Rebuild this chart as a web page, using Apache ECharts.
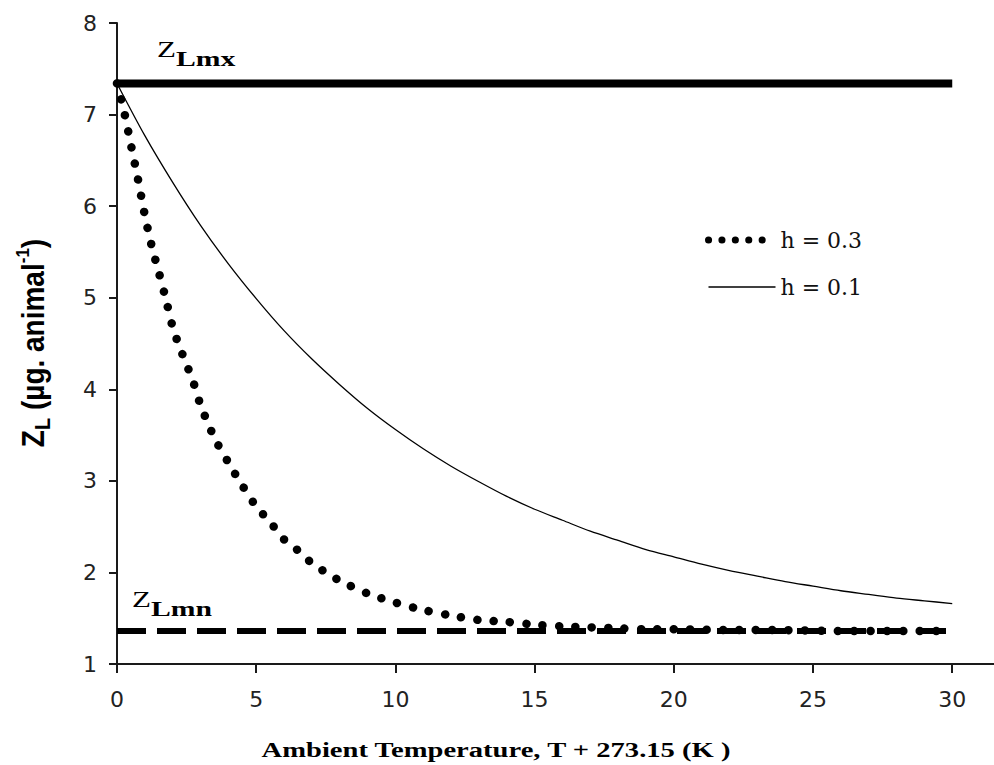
<!DOCTYPE html>
<html>
<head>
<meta charset="utf-8">
<script src="https://cdn.jsdelivr.net/npm/echarts@6/dist/echarts.min.js"></script>
<style>
  html, body { margin: 0; padding: 0; background: #fff; }
  #chart { width: 994px; height: 765px; }
</style>
</head>
<body>
<div id="chart"></div>
<script>
// Axis ticks
const xTicks = [0, 5, 10, 15, 20, 25, 30];
const yTicks = [1, 2, 3, 4, 5, 6, 7, 8];

// Upper and lower bounds of Z_L across the temperature range
const limitTemps = [0, 30];
const zLmx = [7.34, 7.34];
const zLmn = [1.36, 1.36];

// h = 0.3
const tempH03 = [0, 0.25, 0.5, 0.75, 1, 1.25, 1.5, 1.75, 2, 2.25, 2.5, 2.75, 3, 3.5, 4, 4.5, 5, 5.5, 6, 6.5, 7, 7.5, 8, 9, 10, 11, 12, 13, 14, 15, 16, 17, 18, 19, 20, 22, 24, 26, 28, 30];
const zH03 = [7.34, 7.04, 6.67, 6.30, 5.90, 5.56, 5.28, 4.99, 4.68, 4.46, 4.27, 4.07, 3.83, 3.47, 3.20, 2.95, 2.72, 2.55, 2.36, 2.24, 2.10, 2.00, 1.91, 1.77, 1.67, 1.59, 1.53, 1.48, 1.46, 1.43, 1.41, 1.40, 1.39, 1.38, 1.38, 1.37, 1.37, 1.36, 1.36, 1.36];

// h = 0.1
const tempH01 = [0, 1, 2, 3, 4, 5, 6, 7, 8, 9, 10, 11, 12, 13, 14, 15, 16, 17, 18, 19, 20, 21, 22, 23, 24, 25, 26, 27, 28, 29, 30];
const zH01 = [7.34, 6.77, 6.26, 5.79, 5.37, 4.99, 4.64, 4.33, 4.05, 3.79, 3.56, 3.35, 3.16, 2.99, 2.83, 2.69, 2.57, 2.45, 2.35, 2.25, 2.17, 2.09, 2.02, 1.96, 1.90, 1.85, 1.80, 1.76, 1.72, 1.69, 1.66];

const pairs = (xs, ys) => xs.map((x, i) => [x, ys[i]]);

const serif = "'Liberation Serif', 'Times New Roman', serif";
const sans = "'Liberation Sans', Arial, sans-serif";
const axisColor = '#1a1a1a';

const chart = echarts.init(document.getElementById('chart'), null, { renderer: 'svg' });

// "Z" with a bold subscript, as used for the two bound labels
const boundLabel = (sub, x, y) => ({
  type: 'text', x: x, y: y, scaleX: 1.35,
  style: {
    text: '{z|Z}{s|' + sub + '}', fill: '#000',
    align: 'left', verticalAlign: 'top', textAlign: 'left', textVerticalAlign: 'top',
    rich: {
      z: { fontFamily: serif, fontSize: 23, lineHeight: 32, verticalAlign: 'top', fill: '#000' },
      s: { fontFamily: serif, fontWeight: 'bold', fontSize: 22, verticalAlign: 'bottom', fill: '#000' }
    }
  }
});

const option = {
  animation: false,
  backgroundColor: '#ffffff',
  grid: { left: 117, right: 0, top: 23, bottom: 101, containLabel: false, outerBoundsMode: 'none' },
  xAxis: {
    type: 'value',
    min: 0,
    max: 31.5,
    axisLine: { show: true, onZero: false, lineStyle: { color: axisColor, width: 2 } },
    axisTick: { show: true, inside: false, length: 9, customValues: xTicks, lineStyle: { color: axisColor, width: 2 } },
    axisLabel: { show: true, customValues: xTicks, margin: 24, fontFamily: 'DejaVu Sans', fontSize: 22, color: '#222' },
    splitLine: { show: false }
  },
  yAxis: {
    type: 'value',
    min: yTicks[0],
    max: yTicks[yTicks.length - 1],
    interval: 1,
    axisLine: { show: true, onZero: false, lineStyle: { color: axisColor, width: 2 } },
    axisTick: { show: true, inside: false, length: 8, lineStyle: { color: axisColor, width: 2 } },
    axisLabel: { show: true, margin: 20, fontFamily: 'DejaVu Sans', fontSize: 22, color: '#222' },
    splitLine: { show: false }
  },
  legend: {
    left: 700,
    top: 224,
    orient: 'vertical',
    itemWidth: 67,
    itemHeight: 14,
    itemGap: 25,
    selectedMode: false,
    itemStyle: { opacity: 0, borderWidth: 0 },
    textStyle: { fontFamily: 'DejaVu Serif', fontSize: 22, color: '#111' },
    data: [
      { name: 'h = 0.3', itemStyle: { opacity: 0 }, lineStyle: { color: '#000', width: 7, type: [0.1, 13.3], cap: 'round' } },
      { name: 'h = 0.1', itemStyle: { opacity: 0 }, lineStyle: { color: '#000', width: 1.3, type: 'solid' } }
    ]
  },
  series: [
    {
      name: 'Z_Lmn',
      type: 'line',
      data: pairs(limitTemps, zLmn),
      symbol: 'none',
      silent: true,
      itemStyle: { color: '#000' },
      lineStyle: { color: '#000', width: 6, type: [29, 11], cap: 'butt' }
    },
    {
      name: 'Z_Lmx',
      type: 'line',
      data: pairs(limitTemps, zLmx),
      symbol: 'none',
      silent: true,
      itemStyle: { color: '#000' },
      lineStyle: { color: '#000', width: 8, type: 'solid', cap: 'butt' }
    },
    {
      name: 'h = 0.1',
      type: 'line',
      data: pairs(tempH01, zH01),
      symbol: 'none',
      smooth: 0.3,
      itemStyle: { color: '#000' },
      lineStyle: { color: '#000', width: 1.3 }
    },
    {
      name: 'h = 0.3',
      type: 'line',
      data: pairs(tempH03, zH03),
      symbol: 'none',
      smooth: 0.3,
      itemStyle: { color: '#000' },
      lineStyle: { color: '#000', width: 8.5, type: [0.1, 16.3], cap: 'round' }
    }
  ],
  graphic: [
    boundLabel('Lmx', 157, 38),
    boundLabel('Lmn', 132, 588),
    {
      type: 'text', x: 33, y: 343, rotation: Math.PI / 2, scaleX: 1.0, scaleY: 1.1,
      style: {
        text: '{b|Z}{sub|L}{b| (µg. animal}{sup|-1}{b|)}', fill: '#000',
        align: 'center', verticalAlign: 'middle', textAlign: 'center', textVerticalAlign: 'middle',
        rich: {
          b: { fontFamily: sans, fontWeight: 'bold', fontSize: 28, lineHeight: 36, verticalAlign: 'middle', fill: '#000' },
          sub: { fontFamily: sans, fontWeight: 'bold', fontSize: 20, verticalAlign: 'bottom', fill: '#000' },
          sup: { fontFamily: sans, fontWeight: 'bold', fontSize: 17, verticalAlign: 'top', fill: '#000' }
        }
      }
    },
    {
      type: 'text', x: 496, y: 750, scaleX: 1.3,
      style: {
        text: 'Ambient Temperature, T + 273.15 (K )', fill: '#000',
        fontFamily: serif, fontWeight: 'bold', fontSize: 22,
        align: 'center', verticalAlign: 'middle', textAlign: 'center', textVerticalAlign: 'middle'
      }
    }
  ]
};

chart.setOption(option);
</script>
</body>
</html>
